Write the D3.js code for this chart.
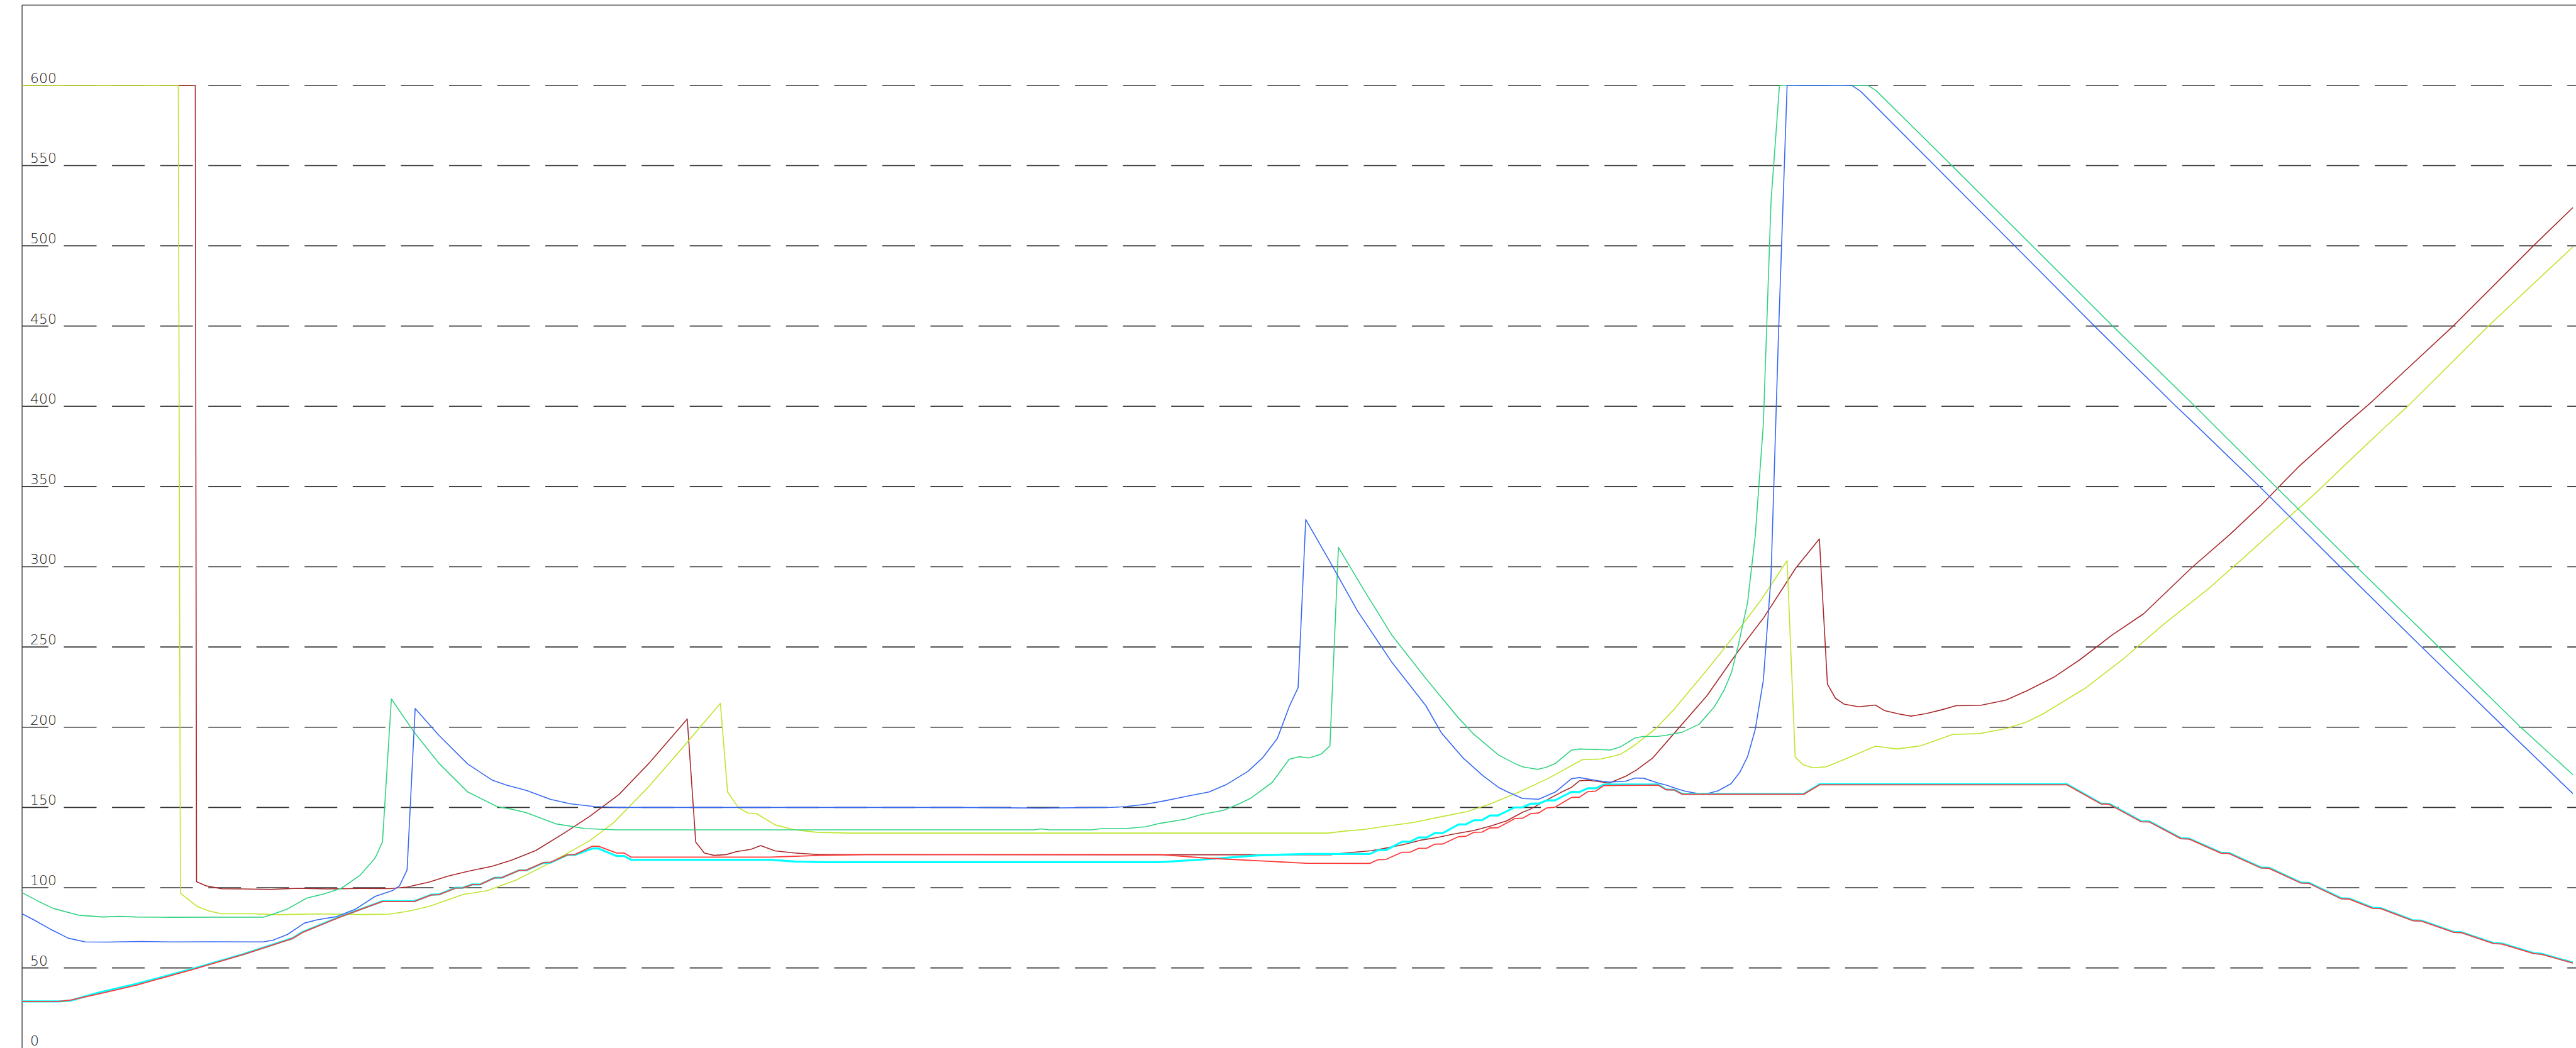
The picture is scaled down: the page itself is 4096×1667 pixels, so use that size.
<!DOCTYPE html>
<html>
<head>
<meta charset="utf-8">
<script src="https://cdn.jsdelivr.net/npm/d3@7"></script>
<style>
  html, body { margin: 0; padding: 0; background: #fff; overflow: hidden; }
  text { font-family: "DejaVu Sans", sans-serif; }
</style>
</head>
<body>
<div id="chart"></div>
<script>
// chart size (reference drawn at 0.675)
const width = 4096;
const height = 1667;
const margin = {left: 35.1, top: 8.1, right: 5};

// y tick labels
const tickLabels = [0, 50, 100, 150, 200, 250, 300, 350, 400, 450, 500, 550, 600];

// series values as [x, value] pairs, x in sample units
const yellowGreen = [[0,600],[36.8,600],[37.3,96.6],[41.3,88.2],[44,85.5],[47,83.7],[54.5,83.7],[60,83.2],[70,83.6],[80,83.3],[86.6,83.5],[90.7,85.2],[95.8,88.2],[103.9,95.8],[109.6,98.1],[116.5,104.9],[124.5,115.6],[133.7,129.2],[139.4,140.6],[147.5,162.6],[155.5,186.9],[164.5,214.9],[166.2,159.6],[168.8,149.7],[171,146.5],[173,146.2],[177.4,139.1],[182,136],[187.2,134.5],[194.6,134],[250,134],[307.7,134],[311.7,135.3],[316,136.2],[321.5,138.4],[327.8,140.6],[334.7,144.4],[340.4,147.4],[345.6,151.9],[352.5,159.4],[359.4,167.9],[367.5,179.7],[372,180.2],[376.6,183.1],[380,189],[384.8,199],[389.3,211.5],[396.9,235.6],[402.7,254.8],[409.8,279.8],[415.8,303.8],[417.7,181.3],[419.6,176.6],[421.9,174.7],[425,175.3],[429.8,180.5],[436.6,188.1],[441.7,186.4],[447.3,188.4],[454.8,195.5],[461.1,196],[467.3,199.1],[472.3,203.3],[476.1,208.3],[486.1,224.4],[494.8,242.1],[504.8,264.8],[514.9,285.9],[523.6,306.2],[529.9,321.3],[539.9,344.9],[548.6,366.9],[557.4,388.8],[562,400],[581,450],[600.9,499.3]];

const darkRed = [[0,600],[40.8,600],[41.1,103.7],[43.4,101.1],[47,99.3],[52,99.2],[58.5,98.9],[65,99.6],[72,99.2],[80,99.5],[86.6,99.4],[90.7,100.4],[95.8,103.4],[100.4,107.2],[105,110.2],[110.7,113.3],[115.3,117.1],[121,123.1],[128,134.5],[133.7,144.4],[140.6,158],[147.5,177],[156.7,205.1],[158.7,128.4],[160.7,121.6],[163,120.1],[165.9,120.6],[168.2,122.4],[171.7,123.9],[174,126.2],[177.4,122.9],[182,121.6],[187.8,120.6],[199.2,120.6],[260,120.5],[308.3,120.5],[311.7,121.6],[317.8,123],[321.6,124.8],[325.4,126.8],[329.3,129.5],[333.1,131.1],[337,133.3],[342,135.6],[345.8,138.3],[349.7,141.6],[353.5,147],[355.4,149],[358.6,153.8],[362.4,159.2],[365,162.5],[366.9,166.6],[368.8,167],[373.9,165.2],[377.7,169.3],[380.3,173.3],[384.1,180.7],[389.2,196.2],[396.9,219.6],[404.2,247.1],[410.3,268.3],[417.8,299],[423.4,317.3],[425.3,226.8],[427.2,218],[429.2,214.4],[432.6,212.7],[436.6,213.8],[438.7,210.4],[442.2,208.2],[445,206.9],[448.6,208.5],[452.3,210.9],[455.6,213.4],[461.3,213.6],[467.3,216.8],[472.3,222.7],[478.6,231.1],[484.8,242.1],[492.3,257.3],[499.8,270.7],[511.1,299.4],[519.9,319.6],[527.4,338.2],[536.1,361.8],[547.4,388.8],[553.7,403.2],[572.7,450],[591.7,500.2],[600.9,523.8]];

const green = [[0,96.9],[4,91.3],[7.4,87],[13.2,82.9],[18.9,81.7],[22.9,82.1],[26.9,81.7],[35,81.5],[45,81.6],[56.8,81.6],[58.5,82.9],[62.5,86.7],[67.1,93.5],[71.1,96.1],[75.2,99.6],[79.7,107.9],[83.2,118.6],[84.9,128.5],[87,217.6],[92.4,196.7],[98.1,177.8],[105,159.6],[111.9,150.5],[115.5,148.8],[118.8,146.7],[125.7,139.8],[132.6,136.8],[140,136],[200,136],[238.3,136],[240,136.6],[242,136],[252,136],[254.3,136.8],[260,136.8],[264.7,138],[268.1,140.1],[273.9,142.6],[277.9,145.6],[283,148.2],[286.5,152],[289.4,155.7],[294.5,165.6],[298.5,180],[300.8,181.6],[303.1,180.8],[306,183.1],[308.1,188.4],[310.1,312.1],[315.8,286.8],[322.7,257.3],[330.7,230.3],[338.2,206.3],[342,195.6],[347.8,182.7],[351.6,177.4],[353.5,175.3],[357,173.7],[358.9,174.9],[361.2,177.4],[365,185.7],[366.9,186.4],[374.2,185.8],[376.5,187.7],[380,193.3],[381.9,194.2],[385.4,194.3],[387.6,195.1],[391.1,196.9],[395.1,201.9],[398.6,212.5],[400.9,222.8],[402.7,234],[404.4,252.2],[406.5,277.9],[408.3,319.6],[410.2,388.8],[412,527.2],[414,600],[434.8,600],[436.8,596.6],[454.6,550],[492.5,450],[511.9,400],[516.1,388.8],[549.9,300],[569.3,250],[588.6,200],[600.9,170.4]];

const blue = [[0,83.7],[2.8,79.9],[6.9,73.8],[10.9,68.5],[14.9,66.2],[20,66.1],[28.1,66.5],[35,66.2],[45,66.3],[56.8,66.2],[59.1,67.3],[62.5,70.8],[66.5,77.9],[69.4,79.9],[74,81.9],[78.6,86.7],[83.2,94.6],[87.2,98.1],[88.9,101.1],[90.7,111],[92.6,211.6],[98.1,195.2],[105,177],[110.7,167.1],[114.2,163.8],[118.8,160.6],[124.5,155],[129.1,152.3],[134.9,150.5],[140,150],[220,150],[240,149.6],[256.6,150],[260,150.5],[264.7,152],[269.3,154.2],[275,157.3],[279.6,159.6],[283.6,164.1],[288.8,172.5],[292.2,180.8],[295.7,192.9],[298.6,213.4],[300.6,224.6],[302.4,329.4],[307.8,304.5],[314.6,272.4],[322.7,240.4],[330.7,213.4],[334.4,196.3],[339.5,180.7],[344.1,169.9],[347.8,162.5],[350,159.6],[353.5,155.5],[357.3,155.1],[361.2,159.6],[365,167.9],[366.9,168.6],[371.4,166.6],[373.9,165.8],[377.7,166.3],[380,168.3],[382,168.2],[385.4,165.2],[387.3,163.9],[389.9,161.6],[391.8,160.1],[396,158],[399.5,160.3],[402.6,164.8],[404.7,172.1],[406.5,181.7],[408.3,198.7],[410.2,229.2],[412,293.3],[413.8,447.1],[415.8,600],[431,600],[433.1,596.3],[469.4,500],[488.2,450],[507.4,400],[511,391],[526.7,351],[545.5,301.5],[564.9,251],[584.3,201],[600.9,158.6]];

const cyan = [[0,29.1],[8.6,29.1],[11.4,29.6],[17.8,34.4],[26.9,40],[40.7,49.8],[52.2,58.6],[63.7,68.5],[66,72.3],[75.2,82.2],[84.9,91.6],[92.4,91.6],[96.4,95.6],[98.2,95.8],[102.1,99.9],[103.8,99.9],[106.1,102],[107.9,102],[111.3,106.2],[113,106.2],[117.1,110.8],[118.8,110.8],[122.8,115.4],[124.5,115.6],[128.5,120.4],[130.2,120.4],[134.3,124.4],[135.8,124.4],[140.1,119.7],[141.8,119.7],[143.5,117.4],[176.3,117.4],[182,116.3],[188.9,115.9],[268.1,115.9],[279.6,117.8],[291.1,120.1],[302.5,121],[317.5,121],[319.4,123.4],[321.3,123.4],[325.1,128.6],[327,128.6],[329,131.3],[330.9,131.3],[332.8,134],[334.7,134],[338.4,139.4],[340.1,139.4],[342,142],[343.9,142],[345.8,145],[347.7,145],[351.6,150],[353.5,150.1],[355.4,152.3],[357.3,152.4],[359.2,154.4],[361.1,154.4],[365,159.7],[366.9,159.6],[368.8,161.9],[370.7,161.9],[372.6,164.3],[385.4,164.3],[387.3,161.2],[389.2,161],[391.1,158.4],[419.7,158.4],[423.5,164.5],[481.7,164.5],[489.8,152.4],[491.7,152.2],[499.2,141.4],[501.1,141.3],[508.6,130.8],[510.5,130.6],[518,121.8],[519.9,121.6],[527.4,112.6],[529.3,112.4],[536.8,103.2],[538.7,103],[546.3,93.4],[548.2,93.2],[553.7,87.5],[555.7,87.2],[563.2,79.7],[565.2,79.5],[572.9,72.4],[574.7,72.2],[582.2,65.5],[584.2,65.2],[591.7,59.2],[593.5,58.8],[600.9,53.3]];

const brightRed = [[0,29.1],[8.6,29.1],[11.4,29.9],[17.8,33.6],[26.9,39.2],[40.7,49.4],[52.2,58.4],[63.7,68.3],[66,72],[75.2,82],[84.9,91.4],[92.4,91.4],[96.4,95.4],[98.2,95.6],[102.1,99.7],[103.8,99.8],[106.1,101.9],[107.9,102],[111.3,106.1],[113,106.2],[117.1,110.8],[118.8,110.9],[122.8,115.6],[124.5,115.9],[128.5,120.5],[130.2,120.6],[134.3,125.8],[135.8,125.8],[140.1,121.6],[141.8,121.6],[143.5,119],[176.3,119],[187.8,120.1],[199.2,120.6],[268.1,120.6],[279.6,118.3],[291.1,116.8],[302.5,115.2],[317.5,115.1],[319.4,117.4],[321.3,117.6],[325.1,122.1],[327,122.1],[329,124.5],[330.9,124.6],[332.8,127.1],[334.7,127.2],[338.4,131.8],[340.1,132],[342,134.5],[343.9,134.6],[345.8,137.2],[347.7,137.4],[351.6,143],[353.5,143.3],[355.4,146.1],[357.3,146.6],[359.2,149.7],[361.1,150.1],[365,156.2],[366.9,156.4],[368.8,159.8],[370.7,160.2],[372.6,163.6],[385.4,163.9],[387.3,161],[389.2,160.9],[391.1,158.2],[419.7,158.2],[423.5,164.1],[481.7,164.1],[489.8,152.1],[491.7,151.9],[499.2,141.1],[501.1,141],[508.6,130.5],[510.5,130.3],[518,121.5],[519.9,121.3],[527.4,112.3],[529.3,112.1],[536.8,102.9],[538.7,102.7],[546.3,93.1],[548.2,92.9],[553.7,87.2],[555.7,86.9],[563.2,79.4],[565.2,79.2],[572.9,72.1],[574.7,71.9],[582.2,65.2],[584.2,64.9],[591.7,58.9],[593.5,58.5],[600.9,53]];

// drawing order and styles
const series = [
  {data: darkRed, color: "#a8282a", w: 1.6},
  {data: yellowGreen, color: "#bde52c", w: 1.6},
  {data: green, color: "#30d282", w: 1.6},
  {data: blue, color: "#3568f2", w: 1.6},
  {data: cyan, color: "#00ffff", w: 3.2},
  {data: brightRed, color: "#ff3838", w: 1.8}
];

const svg = d3.select("#chart")
  .append("svg")
  .attr("width", width)
  .attr("height", height);

const xScale = d3.scaleLinear()
  .domain([0, 600.9])
  .range([margin.left, 4091]);

const yScale = d3.scaleLinear()
  .domain([0, 600])
  .range([1667.2, 135.7]);

// dashed grid lines
svg.append("g")
  .selectAll("line")
  .data(tickLabels.filter(d => d > 0))
  .join("line")
    .attr("x1", margin.left)
    .attr("x2", width)
    .attr("y1", d => yScale(d))
    .attr("y2", d => yScale(d))
    .attr("stroke", "#333")
    .attr("stroke-width", 1.6)
    .attr("stroke-dasharray", "52,24.55")
    .attr("stroke-dashoffset", 10.1);

// tick labels sit just above their grid line
svg.append("g")
  .selectAll("text")
  .data(tickLabels)
  .join("text")
    .attr("x", 48)
    .attr("y", d => yScale(d) - 4)
    .attr("font-size", "22px")
    .attr("font-weight", 200)
    .attr("fill", "#111")
    .text(d => d);

// frame: top line and left axis
svg.append("line")
  .attr("x1", margin.left).attr("x2", width)
  .attr("y1", margin.top).attr("y2", margin.top)
  .attr("stroke", "#444").attr("stroke-width", 1.4);

svg.append("line")
  .attr("x1", margin.left).attr("x2", margin.left)
  .attr("y1", margin.top).attr("y2", height)
  .attr("stroke", "#333").attr("stroke-width", 1.3);

const line = d3.line()
  .x(d => xScale(d[0]))
  .y(d => yScale(d[1]));

svg.append("g")
  .selectAll("path")
  .data(series)
  .join("path")
    .attr("d", d => line(d.data))
    .attr("fill", "none")
    .attr("stroke", d => d.color)
    .attr("stroke-width", d => d.w)
    .attr("stroke-linejoin", "round");
</script>
</body>
</html>
